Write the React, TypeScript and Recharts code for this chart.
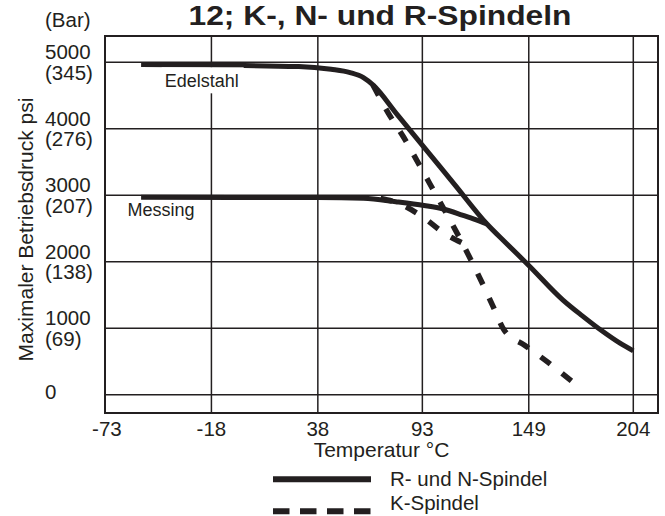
import React from "react";
import {
  LineChart,
  Line,
  XAxis,
  YAxis,
  CartesianGrid,
  ReferenceLine,
  ReferenceArea,
  ReferenceDot,
  Legend,
} from "recharts";

const INK = "#231f20";
const FONT = '"Liberation Sans", Arial, Helvetica, sans-serif';

const title = "12; K-, N- und R-Spindeln";
const xTitle = "Temperatur °C";
const yTitle = "Maximaler Betriebsdruck psi";
const barUnit = "(Bar)";

const tempTicks = [-73, -18, 38, 93, 149, 204];
const psiTicks = [0, 1000, 2000, 3000, 4000, 5000];
const barTicks = ["", "(69)", "(138)", "(207)", "(276)", "(345)"];

// R- und N-Spindel, Edelstahl
const rnSteelTemp = [-55, 28, 45, 55, 62, 67, 80, 95, 110, 127, 137, 149, 167, 177, 188, 197, 204];
const rnSteelPsi = [4967, 4937, 4895, 4845, 4770, 4660, 4206, 3683, 3161, 2568, 2282, 1945, 1424, 1190, 950, 775, 660];
// R- und N-Spindel, Messing
const rnBrassTemp = [-55, 38, 62, 79, 94, 104, 114, 121, 127];
const rnBrassPsi = [2969, 2966, 2954, 2903, 2846, 2793, 2703, 2635, 2568];
// K-Spindel, Edelstahl
const kSteelTemp = [67, 75, 83, 90, 97, 105, 114, 125, 130, 136, 147, 159, 173];
const kSteelPsi = [4660, 4240, 3880, 3530, 3170, 2760, 2283, 1650, 1340, 973, 740, 490, 170];
// K-Spindel, Messing
const kBrassTemp = [71, 80, 93, 104, 114];
const kBrassPsi = [2951, 2884, 2678, 2440, 2283];

const notes = ["Edelstahl", "Messing"];
const noteTemp = [-42.6, -62.2];
const notePsi = [4624, 2688];

const legendNames = ["R- und N-Spindel", "K-Spindel"];
const legendDash = ["none", "16.5 10.5"];

const rows = (t: number[], p: number[]) => t.map((x, i) => ({ t: x, psi: p[i] }));

const PsiTick = (props: any) => {
  const { y, payload } = props;
  const i = psiTicks.indexOf(payload.value);
  const bar = barTicks[i];
  const style = { fontSize: 20.5, fontFamily: FONT, fill: INK };
  if (!bar) {
    return (
      <text x={45} y={y + 4.3} {...style}>
        {payload.value}
      </text>
    );
  }
  return (
    <text {...style}>
      <tspan x={45} y={y - 3}>{payload.value}</tspan>
      <tspan x={45} y={y + 17.5}>{bar}</tspan>
    </text>
  );
};

const YTitle = (props: any) => {
  const vb = props.viewBox ?? { y: 36, height: 377 };
  const cx = 33;
  const cy = vb.y + vb.height / 2 + 5;
  return (
    <text
      x={cx}
      y={cy}
      transform={`rotate(-90 ${cx} ${cy})`}
      textAnchor="middle"
      fontSize={21}
      fontFamily={FONT}
      fill={INK}
    >
      {yTitle}
    </text>
  );
};

const noteShape = (text: string, masked: boolean) => (p: any) => (
  <g>
    {masked && <rect x={p.cx - 3} y={p.cy - 20} width={82} height={26} fill="#fff" />}
    <text x={p.cx} y={p.cy} fontSize={18} fontFamily={FONT} fill={INK}>
      {text}
    </text>
  </g>
);

const LegendBox = () => (
  <svg width={300} height={56} style={{ display: "block" }}>
    {legendNames.map((name, i) => (
      <g key={name}>
        <line
          x1={0}
          x2={98}
          y1={i === 0 ? 14.3 : 46.2}
          y2={i === 0 ? 14.3 : 46.2}
          stroke={INK}
          strokeWidth={6}
          strokeDasharray={legendDash[i]}
        />
        <text x={117} y={i === 0 ? 21 : 45} fontSize={20.5} fontFamily={FONT} fill={INK}>
          {name}
        </text>
      </g>
    ))}
  </svg>
);

export default function App() {
  return (
    <div style={{ position: "absolute", left: 0, top: 0, width: 665, height: 516, background: "#fff" }}>
      <LineChart width={665} height={516} margin={{ top: 36, right: 7, bottom: 54, left: 0 }} style={{ fontFamily: FONT }}>
        <CartesianGrid vertical={false} stroke={INK} strokeWidth={1.5} />
        {tempTicks.slice(1).map((t) => (
          <ReferenceLine key={t} x={t} stroke={INK} strokeWidth={1.5} />
        ))}
        <ReferenceArea x1={-74} x2={217} y1={-275} y2={5396} fill="none" fillOpacity={0} stroke={INK} strokeWidth={2} />
        {notes.map((n, i) => (
          <ReferenceDot key={n} x={noteTemp[i]} y={notePsi[i]} shape={noteShape(n, i === 0)} />
        ))}
        <XAxis
          type="number"
          dataKey="t"
          domain={[-74, 217]}
          ticks={tempTicks}
          interval={0}
          height={49}
          axisLine={false}
          tickLine={false}
          tick={{ fill: INK, fontSize: 20.5, fontFamily: FONT }}
          label={{ value: xTitle, position: "insideBottom", offset: 5, fill: INK, fontSize: 21, fontFamily: FONT }}
        />
        <YAxis
          type="number"
          domain={[-275, 5396]}
          ticks={psiTicks}
          interval={0}
          width={105}
          axisLine={false}
          tickLine={false}
          tick={<PsiTick />}
          label={<YTitle />}
        />
        <Line data={rows(rnSteelTemp, rnSteelPsi)} dataKey="psi" type="monotone" stroke={INK} strokeWidth={5} dot={false} activeDot={false} isAnimationActive={false} />
        <Line data={rows(rnBrassTemp, rnBrassPsi)} dataKey="psi" type="monotone" stroke={INK} strokeWidth={5} dot={false} activeDot={false} isAnimationActive={false} />
        <Line data={rows(kSteelTemp, kSteelPsi)} dataKey="psi" type="monotone" stroke={INK} strokeWidth={5.5} strokeDasharray="12 15" dot={false} activeDot={false} isAnimationActive={false} />
        <Line data={rows(kBrassTemp, kBrassPsi)} dataKey="psi" type="monotone" stroke={INK} strokeWidth={5.5} strokeDasharray="12 15" dot={false} activeDot={false} isAnimationActive={false} />
        <Legend
          layout="vertical"
          align="center"
          verticalAlign="middle"
          content={<LegendBox />}
          wrapperStyle={{ position: "absolute", left: 273, top: 465, width: 300, height: 56 }}
        />
      </LineChart>
      <svg width={665} height={40} style={{ position: "absolute", left: 0, top: 0, pointerEvents: "none" }}>
        <text
          x={380}
          y={24.5}
          textAnchor="middle"
          fontSize={27}
          fontWeight="bold"
          fontFamily={FONT}
          fill={INK}
          textLength={383}
          lengthAdjust="spacingAndGlyphs"
        >
          {title}
        </text>
        <text x={45} y={27.4} fontSize={20.5} fontFamily={FONT} fill={INK}>
          {barUnit}
        </text>
      </svg>
    </div>
  );
}
